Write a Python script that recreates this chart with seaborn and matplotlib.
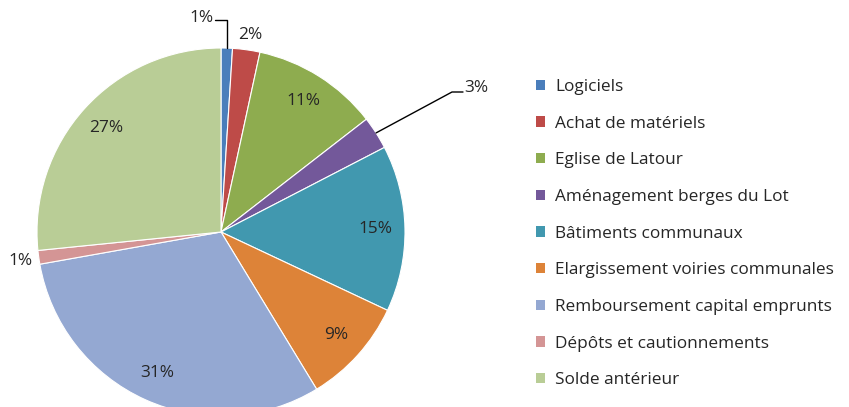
import numpy as np
import matplotlib
matplotlib.use('Agg')
import matplotlib.pyplot as plt
import seaborn as sns
from matplotlib.patches import Patch

# données du graphique (en %)
categories = ['Logiciels', 'Achat de matériels', 'Eglise de Latour',
              'Aménagement berges du Lot', 'Bâtiments communaux',
              'Elargissement voiries communales', 'Remboursement capital emprunts',
              'Dépôts et cautionnements', 'Solde antérieur']
values = [1.0, 2.4, 11.1, 2.9, 14.6, 9.3, 30.9, 1.2, 26.6]
pct_labels = ['1%', '2%', '11%', '3%', '15%', '9%', '31%', '1%', '27%']
colors = ['#4A7EBB', '#BE4B48', '#8EAC4F', '#73589A', '#4198AF',
          '#DD8338', '#94A8D2', '#D49595', '#B9CD96']

sns.set_style('white')
plt.rcParams['font.family'] = ['Open Sans', 'DejaVu Sans']

W, H = 849, 407
fig = plt.figure(figsize=(W / 100, H / 100), dpi=100)

# centre du camembert en pixels et rayon
cx, cy, r = 221, 232, 184
ax = fig.add_axes([(cx - r) / W, (H - cy - r) / H, 2 * r / W, 2 * r / H])

wedges, _ = ax.pie(values, colors=colors, startangle=90, counterclock=False,
                   radius=1, wedgeprops=dict(linewidth=0.8, edgecolor='white'))
ax.set_xlim(-1, 1)
ax.set_ylim(-1, 1)
ax.set_aspect('equal')
ax.axis('off')

fs = 12.4

def px(x, y):
    return (x - cx) / r, (cy - y) / r

# étiquettes intérieures
for i, w in enumerate(wedges):
    mid = np.deg2rad((w.theta1 + w.theta2) / 2)
    if values[i] >= 5:
        ax.text(0.84 * np.cos(mid), 0.84 * np.sin(mid), pct_labels[i],
                ha='center', va='center', fontsize=fs)

def edge(i):
    w = wedges[i]
    mid = np.deg2rad((w.theta1 + w.theta2) / 2)
    return np.cos(mid), np.sin(mid)

# Logiciels
ex, ey = edge(0)
x1, y1 = px(215, 20)
ax.plot([ex, ex, x1], [ey, y1, y1], color='black', lw=1, clip_on=False)
ax.text(x1 - 0.01, y1 + 0.01, pct_labels[0], ha='right', va='center', fontsize=fs)

# Achat de matériels
tx, ty = px(250, 35)
ax.text(tx, ty, pct_labels[1], ha='center', va='center', fontsize=fs)

# Aménagement berges du Lot
ex, ey = edge(3)
x1, y1 = px(452, 92)
x2, _ = px(463, 92)
ax.plot([ex, x1, x2], [ey, y1, y1], color='black', lw=1, clip_on=False)
ax.text(x2 + 0.005, y1 + 0.02, pct_labels[3], ha='left', va='center', fontsize=fs)

# Dépôts et cautionnements
tx, ty = px(20, 261)
ax.text(tx, ty, pct_labels[7], ha='center', va='center', fontsize=fs)

# légende
handles = [Patch(facecolor=c, edgecolor='none') for c in colors]
fig.legend(handles, categories, loc='upper left',
           bbox_to_anchor=(536 / W, 1 - 79 / H), frameon=False,
           fontsize=fs, handlelength=0.53, handleheight=0.53,
           handletextpad=0.6, labelspacing=1.2, borderpad=0, borderaxespad=0)

fig.savefig('out.png', dpi=100)
